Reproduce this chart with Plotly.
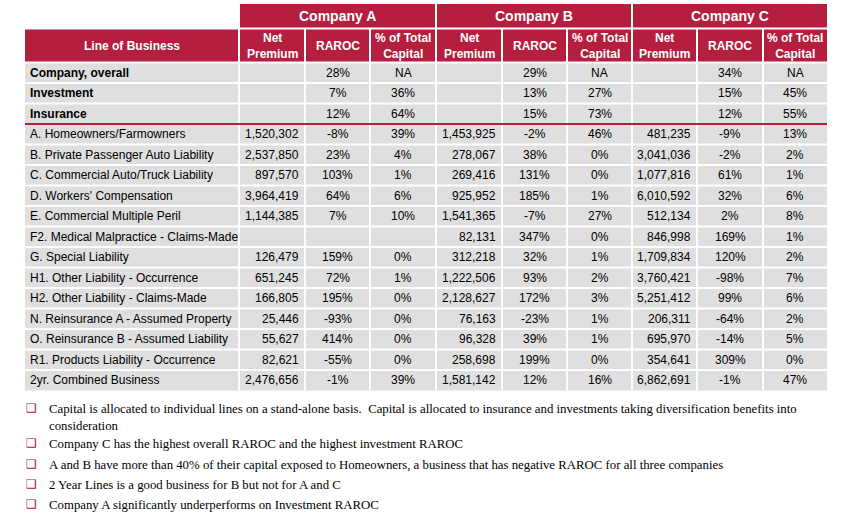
import plotly.graph_objects as go

# ---------------- data ----------------
companies = ["Company A", "Company B", "Company C"]
sub_headers = ["Net<br>Premium", "RAROC", "% of Total<br>Capital"]
lob_header = "Line of Business"

lines = [
    "Company, overall", "Investment", "Insurance",
    "A. Homeowners/Farmowners", "B. Private Passenger Auto Liability",
    "C. Commercial Auto/Truck Liability", "D. Workers' Compensation",
    "E. Commercial Multiple Peril", "F2. Medical Malpractice - Claims-Made",
    "G. Special Liability", "H1. Other Liability - Occurrence",
    "H2. Other Liability - Claims-Made", "N. Reinsurance A - Assumed Property",
    "O. Reinsurance B - Assumed Liability", "R1. Products Liability - Occurrence",
    "2yr. Combined Business",
]
bold_rows = 3

a_premium = [None, None, None, 1520302, 2537850, 897570, 3964419, 1144385, None,
             126479, 651245, 166805, 25446, 55627, 82621, 2476656]
a_raroc = [28, 7, 12, -8, 23, 103, 64, 7, None, 159, 72, 195, -93, 414, -55, -1]
a_capital = ["NA", 36, 64, 39, 4, 1, 6, 10, None, 0, 1, 0, 0, 0, 0, 39]

b_premium = [None, None, None, 1453925, 278067, 269416, 925952, 1541365, 82131,
             312218, 1222506, 2128627, 76163, 96328, 258698, 1581142]
b_raroc = [29, 13, 15, -2, 38, 131, 185, -7, 347, 32, 93, 172, -23, 39, 199, 12]
b_capital = ["NA", 27, 73, 46, 0, 0, 1, 27, 0, 1, 2, 3, 1, 1, 0, 16]

c_premium = [None, None, None, 481235, 3041036, 1077816, 6010592, 512134, 846998,
             1709834, 3760421, 5251412, 206311, 695970, 354641, 6862691]
c_raroc = [34, 15, 12, -9, -2, 61, 32, 2, 169, 120, -98, 99, -64, -14, 309, -1]
c_capital = ["NA", 45, 55, 13, 2, 1, 6, 8, 1, 2, 7, 6, 2, 5, 0, 47]

bullets = [
    "Capital is allocated to individual lines on a stand-alone basis.  Capital is allocated to insurance and investments taking diversification benefits into<br>consideration",
    "Company C has the highest overall RAROC and the highest investment RAROC",
    "A and B have more than 40% of their capital exposed to Homeowners, a business that has negative RAROC for all three companies",
    "2 Year Lines is a good business for B but not for A and C",
    "Company A significantly underperforms on Investment RAROC",
]

# ---------------- layout constants ----------------
RED = "#B51E3E"
GRAY = "#DFDFDF"
BULLET_RED = "#A3162F"
col_edges = [25, 239, 305, 370, 436, 502, 567, 632, 697, 763, 827]
TOP1, BOT1 = 4, 28.5
TOP2, BOT2 = 28.5, 62.5
BODY_TOP = 62.5
ROW_H = 20.5
n_rows = len(lines)
BODY_BOT = BODY_TOP + n_rows * ROW_H
TFONT = "Arial, Liberation Sans, sans-serif"
BFONT = "Times New Roman, Liberation Serif, serif"


def fmt_num(v):
    return "" if v is None else f"{v:,}"


def fmt_pct(v):
    if v is None:
        return ""
    if isinstance(v, str):
        return v
    return f"{v}%"


shapes = []
annotations = []

# company header row
shapes.append(dict(type="rect", xref="x", yref="y", x0=col_edges[1], x1=col_edges[-1],
                   y0=TOP1, y1=BOT1, fillcolor=RED, line=dict(width=0), layer="below"))
# sub header row
shapes.append(dict(type="rect", xref="x", yref="y", x0=col_edges[0], x1=col_edges[-1],
                   y0=TOP2, y1=BOT2, fillcolor=RED, line=dict(width=0), layer="below"))
# body
shapes.append(dict(type="rect", xref="x", yref="y", x0=col_edges[0], x1=col_edges[-1],
                   y0=BODY_TOP, y1=BODY_BOT, fillcolor=GRAY, line=dict(width=0), layer="below"))

# horizontal separators
shapes.append(dict(type="line", xref="x", yref="y", x0=col_edges[0], x1=col_edges[-1],
                   y0=BOT1, y1=BOT1, line=dict(color="white", width=2)))
for i in range(0, n_rows):
    y = BODY_TOP + i * ROW_H
    shapes.append(dict(type="line", xref="x", yref="y", x0=col_edges[0], x1=col_edges[-1],
                       y0=y, y1=y, line=dict(color="white", width=2)))
# vertical separators
for j, x in enumerate(col_edges[1:-1], start=1):
    top = TOP1 if j in (1, 4, 7) else TOP2
    shapes.append(dict(type="line", xref="x", yref="y", x0=x, x1=x,
                       y0=top, y1=BODY_BOT, line=dict(color="white", width=2)))
# red rule under Insurance
yred = BODY_TOP + bold_rows * ROW_H
shapes.append(dict(type="line", xref="x", yref="y", x0=col_edges[0], x1=col_edges[-1],
                   y0=yred, y1=yred, line=dict(color=RED, width=2)))

# header texts
for k, name in enumerate(companies):
    x0, x1 = col_edges[1 + 3 * k], col_edges[4 + 3 * k]
    annotations.append(dict(x=(x0 + x1) / 2, y=(TOP1 + BOT1) / 2, text=f"<b>{name}</b>",
                            font=dict(family=TFONT, size=14, color="white"),
                            xanchor="center", yanchor="middle"))
    for s, sh in enumerate(sub_headers):
        cx0, cx1 = col_edges[1 + 3 * k + s], col_edges[2 + 3 * k + s]
        annotations.append(dict(x=(cx0 + cx1) / 2, y=(TOP2 + BOT2) / 2, text=f"<b>{sh}</b>",
                                font=dict(family=TFONT, size=12, color="white"),
                                xanchor="center", yanchor="middle"))
annotations.append(dict(x=(col_edges[0] + col_edges[1]) / 2, y=(TOP2 + BOT2) / 2,
                        text=f"<b>{lob_header}</b>",
                        font=dict(family=TFONT, size=12, color="white"),
                        xanchor="center", yanchor="middle"))

# body texts
cols = [(a_premium, a_raroc, a_capital), (b_premium, b_raroc, b_capital),
        (c_premium, c_raroc, c_capital)]
for i, name in enumerate(lines):
    yc = BODY_TOP + (i + 0.5) * ROW_H
    txt = f"<b>{name}</b>" if i < bold_rows else name
    annotations.append(dict(x=col_edges[0] + 3, y=yc, text=txt,
                            font=dict(family=TFONT, size=12, color="black"),
                            xanchor="left", yanchor="middle"))
    for k, (prem, rar, cap) in enumerate(cols):
        base = 1 + 3 * k
        annotations.append(dict(x=col_edges[base + 1] - 4, y=yc, text=fmt_num(prem[i]),
                                font=dict(family=TFONT, size=12, color="black"),
                                xanchor="right", yanchor="middle"))
        annotations.append(dict(x=(col_edges[base + 1] + col_edges[base + 2]) / 2, y=yc,
                                text=fmt_pct(rar[i]),
                                font=dict(family=TFONT, size=12, color="black"),
                                xanchor="center", yanchor="middle"))
        annotations.append(dict(x=(col_edges[base + 2] + col_edges[base + 3]) / 2, y=yc,
                                text=fmt_pct(cap[i]),
                                font=dict(family=TFONT, size=12, color="black"),
                                xanchor="center", yanchor="middle"))

# bullets
bullet_y = [408, 443, 464, 484, 504]
for by, bt in zip(bullet_y, bullets):
    annotations.append(dict(x=31, y=by, text="❑", font=dict(family="DejaVu Sans", size=12,
                                                              color=BULLET_RED),
                            xanchor="center", yanchor="middle"))
    annotations.append(dict(x=47, y=by - 8.5, text=bt, align="left",
                            font=dict(family=BFONT, size=12.8, color="black"),
                            xanchor="left", yanchor="top"))

for a in annotations:
    a.update(xref="x", yref="y", showarrow=False)

fig = go.Figure()
fig.add_trace(go.Scatter(x=[0, 850], y=[0, 518], mode="markers",
                         marker=dict(opacity=0), hoverinfo="skip", showlegend=False))
fig.update_layout(
    width=850, height=518,
    margin=dict(l=0, r=0, t=0, b=0),
    paper_bgcolor="white", plot_bgcolor="white",
    xaxis=dict(range=[0, 850], visible=False, fixedrange=True),
    yaxis=dict(range=[518, 0], visible=False, fixedrange=True),
    shapes=shapes, annotations=annotations,
    showlegend=False,
)
fig.write_html(
    "out.html",
    config={"displayModeBar": False},
    post_script="document.body.style.margin='0';document.body.style.overflow='hidden';",
)
